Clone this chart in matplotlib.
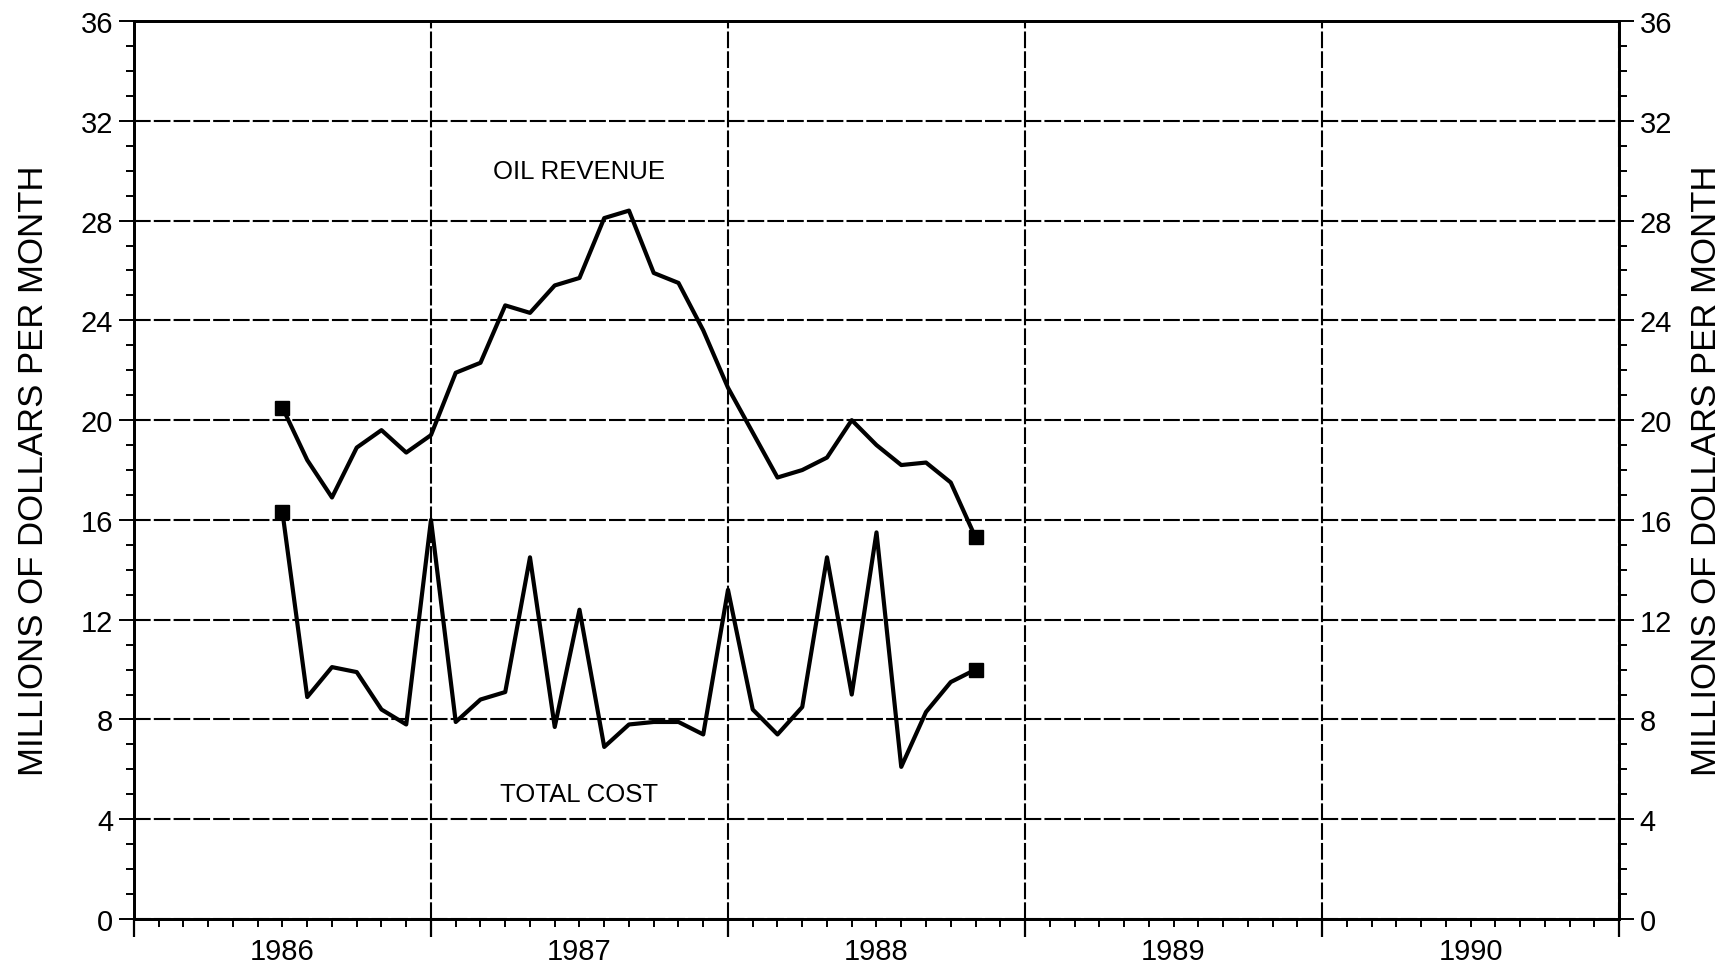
import matplotlib
matplotlib.use('Agg')
import matplotlib.pyplot as plt
import numpy as np

plt.rcParams['font.family'] = ['Liberation Sans', 'DejaVu Sans']

# months counted from jan 1986 (6 = mid 1986 ... 34 = late 1988)
months = np.arange(6, 35)
oil_revenue = [20.5, 18.4, 16.9, 18.9, 19.6, 18.7, 19.4, 21.9, 22.3, 24.6,
               24.3, 25.4, 25.7, 28.1, 28.4, 25.9, 25.5, 23.6, 21.3, 19.5,
               17.7, 18.0, 18.5, 20.0, 19.0, 18.2, 18.3, 17.5, 15.3]
total_cost = [16.3, 8.9, 10.1, 9.9, 8.4, 7.8, 16.0, 7.9, 8.8, 9.1,
              14.5, 7.7, 12.4, 6.9, 7.8, 7.9, 7.9, 7.4, 13.2, 8.4,
              7.4, 8.5, 14.5, 9.0, 15.5, 6.1, 8.3, 9.5, 10.0]
years = [1986, 1987, 1988, 1989, 1990]

x = 1986 + months / 12.0

fig = plt.figure(figsize=(17.22, 9.70), dpi=100)
ax = fig.add_axes([0.0778, 0.0515, 0.8624, 0.9258])

ax.plot(x, oil_revenue, color='black', lw=3.0, marker='s', ms=10, markevery=[0, -1])
ax.plot(x, total_cost, color='black', lw=3.0, marker='s', ms=10, markevery=[0, -1])

ax.text(1986 + 18 / 12, 30.0, 'OIL REVENUE', ha='center', va='center', fontsize=18.5)
ax.text(1986 + 18 / 12, 5.0, 'TOTAL COST', ha='center', va='center', fontsize=18.5)

ax.set_xlim(1986, 1991)
ax.set_ylim(0, 36)

# year boundaries carry the grid, labels sit in the middle of each year
ax.set_xticks(np.arange(1986, 1992))
ax.set_xticklabels([])
ax.set_xticks(1986 + np.arange(0, 61) / 12.0, minor=True)
ax.set_yticks(np.arange(0, 37, 4))
ax.set_yticks(np.arange(0, 37, 1), minor=True)

ax.grid(True, which='major', color='black', lw=1.5, ls=(0, (8, 1.5)))
ax.tick_params(axis='x', which='major', direction='out', length=13, width=1.6)
ax.tick_params(axis='x', which='minor', direction='out', length=6, width=1.4)
ax.tick_params(axis='y', which='major', direction='out', length=11, width=1.4,
               labelsize=21, pad=4)
ax.tick_params(axis='y', which='minor', direction='out', length=6, width=1.4)
for s in ax.spines.values():
    s.set_linewidth(2)

sec = ax.secondary_xaxis('bottom')
sec.set_xticks([y + 0.5 for y in years])
sec.set_xticklabels([str(y) for y in years])
sec.tick_params(length=0, labelsize=21, pad=13)
sec.spines['bottom'].set_visible(False)

ax.set_ylabel('MILLIONS OF DOLLARS PER MONTH', fontsize=25, labelpad=22)

ax2 = ax.twinx()
ax2.set_ylim(0, 36)
ax2.set_yticks(np.arange(0, 37, 4))
ax2.set_yticks(np.arange(0, 37, 1), minor=True)
ax2.tick_params(axis='y', which='major', direction='out', length=11, width=1.4,
                labelsize=21, pad=4)
ax2.tick_params(axis='y', which='minor', direction='out', length=6, width=1.4)
ax2.set_ylabel('MILLIONS OF DOLLARS PER MONTH', fontsize=25, labelpad=13)
for s in ax2.spines.values():
    s.set_linewidth(2)

fig.savefig('out.png', dpi=100)
